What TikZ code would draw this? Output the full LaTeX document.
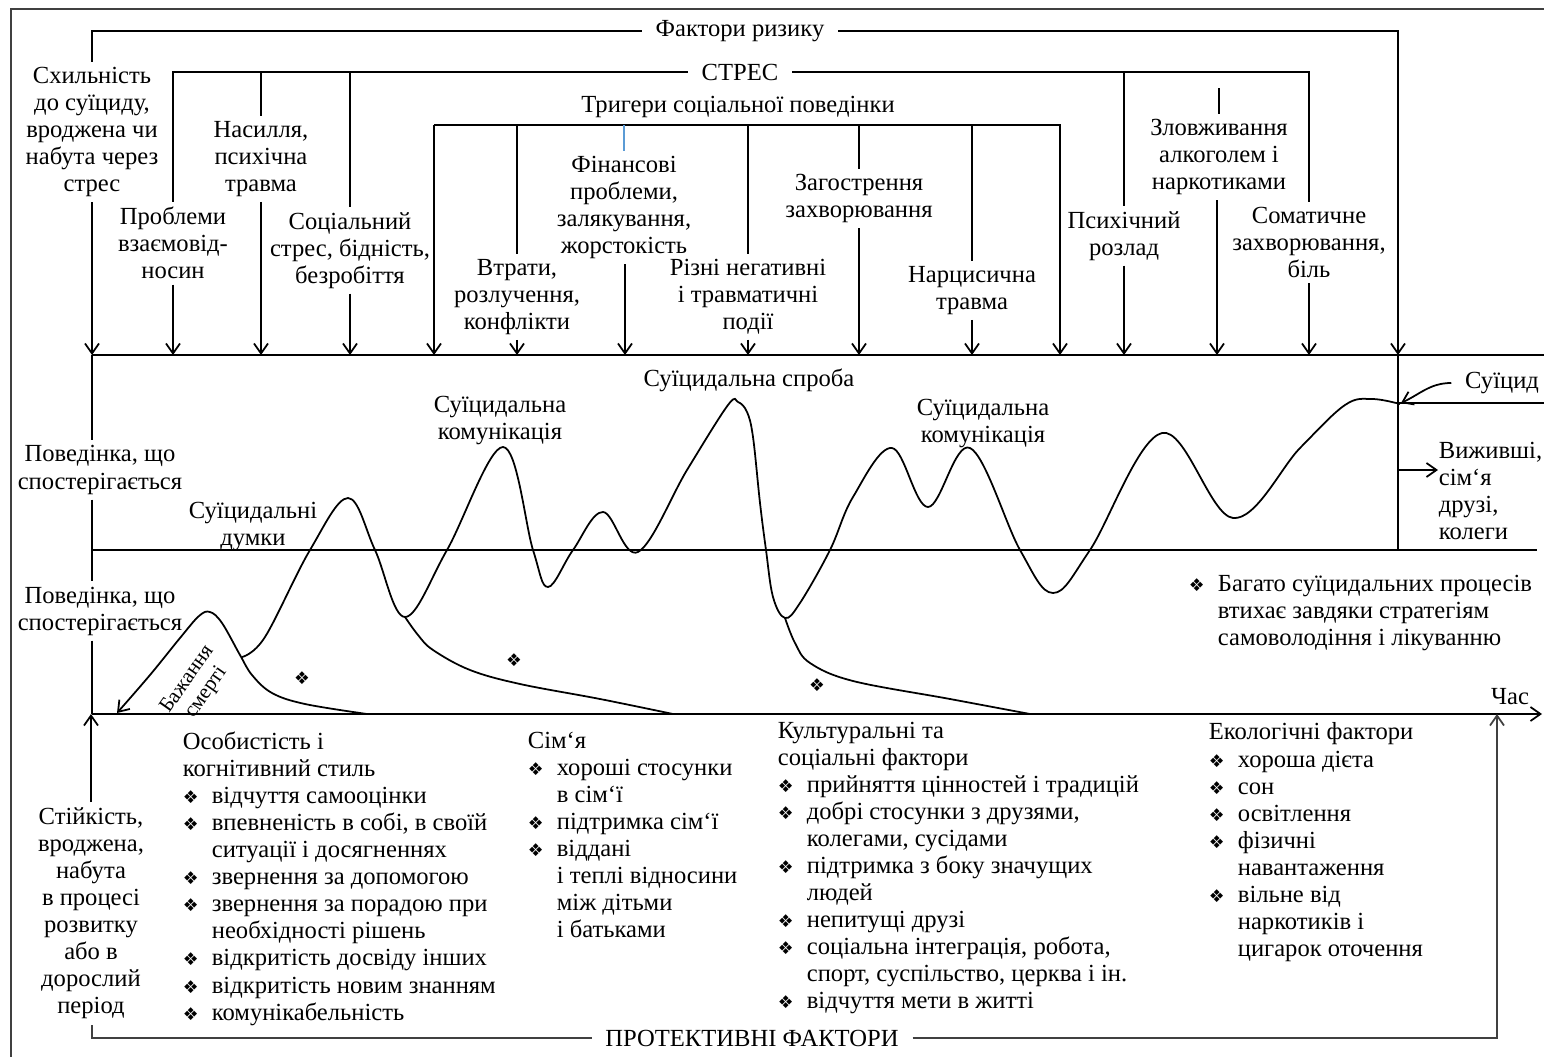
\documentclass[tikz,border=0pt]{standalone}
\usepackage{fontspec}
\setmainfont{Liberation Serif}
\newfontfamily\symfont{DejaVu Sans}
\usetikzlibrary{arrows.meta}

\newcommand\dia{{\symfont\fontsize{10}{12}\selectfont\char"2756}}
\newcommand\itm{\makebox[0.58cm][l]{\dia}}
\newcommand\ind{\hspace*{0.58cm}}
\definecolor{tickblue}{RGB}{91,155,213}

\tikzset{
  fleche/.style={-{Straight Barb[length=2mm,width=2.8mm]},line width=1pt},
  frame/.style={line width=1.4pt,black!75},
  ttl/.style={inner xsep=0.26cm,inner ysep=0pt,font=\fontsize{14}{15.4}\selectfont},
  lbl/.style={align=center,inner sep=0pt,outer sep=3pt,anchor=north,font=\fontsize{14}{15.4}\selectfont},
  lst/.style={align=left,inner sep=0pt,anchor=north west,font=\fontsize{14}{15.4}\selectfont},
  wave/.style={line width=1pt}
}

\begin{document}
\begin{tikzpicture}[x=0.02cm,y=-0.02cm,line width=1pt]
\useasboundingbox (0,0) rectangle (1544,1057);
\draw[frame] (1544,9) -- (11,9) -- (11,1057);

% risk factors
\node[ttl] (fr) at (740,31) {Фактори ризику};
\node[ttl] (str) at (740,72) {СТРЕС};
\node[ttl] (trg) at (738,107) {Тригери соціальної поведінки};
\node[lbl] (skh) at (92,62) {Схильність\\до суїциду,\\вроджена чи\\набута через\\стрес};
\node[lbl] (prb) at (173,202) {Проблеми\\взаємовід-\\носин};
\node[lbl] (nas) at (261,116) {Насилля,\\психічна\\травма};
\node[lbl] (soc) at (350,207) {Соціальний\\стрес, бідність,\\безробіття};
\node[lbl] (vtr) at (517,254) {Втрати,\\розлучення,\\конфлікти};
\node[lbl] (fin) at (624,151) {Фінансові\\проблеми,\\залякування,\\жорстокість};
\node[lbl] (riz) at (748,254) {Різні негативні\\і травматичні\\події};
\node[lbl] (zag) at (859,169) {Загострення\\захворювання};
\node[lbl] (nar) at (972,261) {Нарцисична\\травма};
\node[lbl] (psy) at (1124,206) {Психічний\\розлад};
\node[lbl] (zlo) at (1219,114) {Зловживання\\алкоголем і\\наркотиками};
\node[lbl] (som) at (1309,202) {Соматичне\\захворювання,\\біль};
\coordinate (tl) at (434,125);
\coordinate (tr) at (1060,125);

\draw (fr.west) -| (skh.north);
\draw[fleche] (fr.east) -| (1398,355);
\draw (str.west) -| (prb.north);
\draw (str.east) -| (som.north);
\foreach \n in {nas,soc,psy}
\draw (\n.north) -- (\n.north |- str);
\draw (zlo.north) -- ++(0,-26);
\draw[fleche] (tl) -- (434,355);
\draw[fleche] (tl) -- (tr) -- (1060,355);
\foreach \n in {vtr,riz,zag,nar}
\draw (\n.north) -- (\n.north |- tl);
\draw[tickblue] (fin.north) -- (fin.north |- tl);
\foreach \n/\x in {skh/92,prb/173,nas/261,soc/350,vtr/517,fin/625,riz/748,zag/859,nar/972,psy/1124,zlo/1217,som/1309}
\draw[fleche] (\n.south -| \x,0) -- (\x,355);

% observed behaviour
\node[lbl,anchor=center] (pv1) at (100,470) {Поведінка, що\\спостерігається};
\node[lbl,anchor=center] (pv2) at (100,611) {Поведінка, що\\спостерігається};
\draw (92,355) -- (1544,355);
\draw (92,355) -- (pv1.north -| 92,0);
\draw (pv1.south -| 92,0) -- (pv2.north -| 92,0);
\draw (pv2.south -| 92,0) -- (92,714);
\draw (1398,355) -- (1398,550);
\draw (92,550) -- (1537,550);
\draw (1398,403) -- (1544,403);
\node[ttl] (sui) at (1502,383) {Суїцид};
\draw[fleche] (sui.west) to[out=180,in=25] (1401,403);
\node[lst] (viz) at (1438,441) {Виживші,\\сім‘я\\друзі,\\колеги};
\draw[fleche] (1398,470) -- (viz.west |- 0,470);
\node[lst] (bag) at (1188,574) {\itm Багато суїцидальних процесів\\\ind втихає завдяки стратегіям\\\ind самоволодіння і лікуванню};

% curves
\draw[wave] plot[smooth,tension=0.6] coordinates {(242,657) (265,637) (310,550) (348,498) (375,550) (405,617) (447,550) (503,447) (533,550) (548,587) (573,550) (603,512) (638,552) (687,470) (728,405) (738,402) (747,412) (753,437) (760,503) (766,550) (773,597) (785,618) (800,603) (830,550) (853,497) (892,448) (928,507) (970,448) (1020,550) (1053,593) (1090,550) (1162,433) (1233,518) (1300,448) (1345,405) (1372,399) (1400,404)};
\draw[fleche] plot[smooth,tension=0.6] coordinates {(367,714) (305,704) (272,693) (252,675) (240,655) (222,623) (210,612) (199,616) (180,638) (150,675) (117,713)};
\draw[wave] plot[smooth,tension=0.6] coordinates {(405,617) (418,635) (433,650) (470,670) (520,684) (600,699) (673,714)};
\draw[wave] plot[smooth,tension=0.6] coordinates {(785,618) (795,643) (810,663) (853,681) (950,699) (1030,714)};
\node[lbl] (sd) at (253,497) {Суїцидальні\\думки};
\node[lbl] (sk1) at (500,391) {Суїцидальна\\комунікація};
\node[ttl] (ss) at (749,380) {Суїцидальна спроба};
\node[lbl] (sk2) at (983,394) {Суїцидальна\\комунікація};
\node[lbl,anchor=center,rotate=55,font=\fontsize{12}{13}\selectfont] (bs) at (197,686) {Бажання\\смерті};
\node (d1) at (302,678) {\dia};
\node (d2) at (514,660) {\dia};
\node (d3) at (817,685) {\dia};

% time axis, protective factors
\draw[fleche] (92,714) -- (1542,714);
\node[ttl] (chas) at (1510,697) {Час};
\node[lbl] (stk) at (91,802) {Стійкість,\\вроджена,\\набута\\в процесі\\розвитку\\або в\\дорослий\\період};
\node[ttl] (prot) at (752,1038) {ПРОТЕКТИВНІ ФАКТОРИ};
\draw[fleche] (stk.north) -- (stk.north |- 0,714);
\draw[frame] (92,1025) |- (prot.west);
\draw[frame,fleche] (prot.east) -| (1497,714);
\node[lst] (osb) at (182,731) {Особистість і\\когнітивний стиль\\\itm відчуття самооцінки\\\itm впевненість в собі, в своїй\\\ind ситуації і досягненнях\\\itm звернення за допомогою\\\itm звернення за порадою при\\\ind необхідності рішень\\\itm відкритість досвіду інших\\\itm відкритість новим знанням\\\itm комунікабельність};
\node[lst] (sim) at (527,731) {Сім‘я\\\itm хороші стосунки\\\ind в сім‘ї\\\itm підтримка сім‘ї\\\itm віддані\\\ind і теплі відносини\\\ind між дітьми\\\ind і батьками};
\node[lst] (kul) at (777,721) {Культуральні та\\соціальні фактори\\\itm прийняття цінностей і традицій\\\itm добрі стосунки з друзями,\\\ind колегами, сусідами\\\itm підтримка з боку значущих\\\ind людей\\\itm непитущі друзі\\\itm соціальна інтеграція, робота,\\\ind спорт, суспільство, церква і ін.\\\itm відчуття мети в житті};
\node[lst] (eko) at (1208,722) {Екологічні фактори\\\itm хороша дієта\\\itm сон\\\itm освітлення\\\itm фізичні\\\ind навантаження\\\itm вільне від\\\ind наркотиків і\\\ind цигарок оточення};
\end{tikzpicture}
\end{document}
